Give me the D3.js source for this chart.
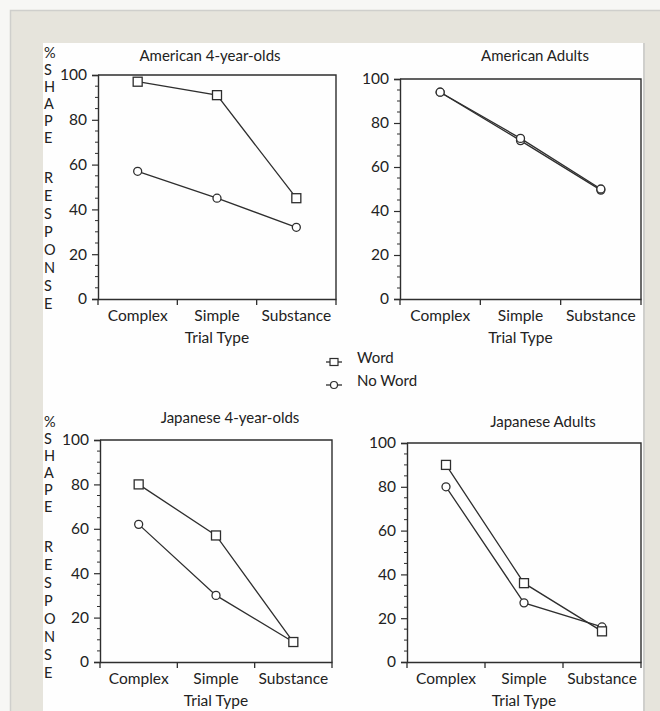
<!DOCTYPE html>
<html><head><meta charset="utf-8">
<script src="https://cdn.jsdelivr.net/npm/d3@7"></script>
<style>
html,body{margin:0;padding:0;background:#f7f7f5;}
svg{display:block;}
text{font-family:Lato,"Open Sans",sans-serif;fill:#222;}
</style></head>
<body>
<svg id="chart" width="660" height="711"></svg>
<script>
const categories = ["Complex", "Simple", "Substance"];
const seriesNames = ["Word", "No Word"];
const panelTitles = ["American 4-year-olds", "American Adults", "Japanese 4-year-olds", "Japanese Adults"];
const wordValues = [
  [97, 91, 45],
  [94, 73, 50],
  [80, 57, 9],
  [90, 36, 14]
];
const noWordValues = [
  [57, 45, 32],
  [94, 72, 49.5],
  [62, 30, 9],
  [80, 27, 16]
];
const yTicks = [0, 20, 40, 60, 80, 100];
const yMinorTicks = d3.range(0, 101, 5);
const yAxisTitle = ["%", "S", "H", "A", "P", "E", "", "R", "E", "S", "P", "O", "N", "S", "E"];
const xAxisTitle = "Trial Type";

const svg = d3.select("#chart");
const ink = "#2e2e2e";
const axisFont = "15.5px";

// background frames
svg.append("rect").attr("x", 10.5).attr("y", 10.5).attr("width", 660).attr("height", 711)
  .attr("fill", "#e6e4dc").attr("stroke", "#cfcfcc").attr("stroke-width", 1.5);
svg.append("rect").attr("x", 43).attr("y", 43).attr("width", 600).attr("height", 680)
  .attr("fill", "#fefefe");
svg.append("line").attr("x1", 644).attr("x2", 644).attr("y1", 43).attr("y2", 711)
  .attr("stroke", "#cfcfcc").attr("stroke-width", 2);

const layouts = [
  {x0: 98, x1: 336, y0: 75, y1: 299, tx: 210, ty: 61, vlabel: true, vy: 52},
  {x0: 400, x1: 641, y0: 79, y1: 299, tx: 535, ty: 61, vlabel: false},
  {x0: 100, x1: 332, y0: 440, y1: 662, tx: 230, ty: 423, vlabel: true, vy: 421},
  {x0: 407, x1: 641, y0: 443, y1: 662, tx: 543, ty: 427, vlabel: false}
];

function square(g, x, y) {
  g.append("rect").attr("x", x - 4.5).attr("y", y - 4.5).attr("width", 9).attr("height", 9)
    .attr("fill", "#fff").attr("stroke", ink).attr("stroke-width", 1.3);
}
function circle(g, x, y) {
  g.append("circle").attr("cx", x).attr("cy", y).attr("r", 4)
    .attr("fill", "#fff").attr("stroke", ink).attr("stroke-width", 1.3);
}

layouts.forEach((L, i) => {
  const g = svg.append("g");
  const x = d3.scaleBand().domain(categories).range([L.x0, L.x1]).padding(0);
  const y = d3.scaleLinear().domain([0, 100]).range([L.y1, L.y0]);

  // frame (top & right)
  g.append("path").attr("d", `M${L.x0},${L.y0}H${L.x1}V${L.y1}`)
    .attr("fill", "none").attr("stroke", ink).attr("stroke-width", 1.4);

  // y axis
  const yAx = g.append("g").attr("transform", `translate(${L.x0},0)`)
    .call(d3.axisLeft(y).tickValues(yTicks).tickSize(6).tickPadding(5).tickFormat(d3.format("d")));
  yAx.select(".domain").attr("stroke", ink).attr("stroke-width", 1.4);
  yAx.selectAll(".tick line").attr("stroke", ink).attr("stroke-width", 1.2);
  yAx.selectAll("text").style("font-size", axisFont).attr("fill", "#222");
  g.append("g").attr("transform", `translate(${L.x0},0)`)
    .selectAll("line").data(yMinorTicks.filter(v => !yTicks.includes(v))).join("line")
    .attr("x1", -3).attr("x2", 0).attr("y1", d => y(d)).attr("y2", d => y(d))
    .attr("stroke", ink).attr("stroke-width", 1);

  // x axis
  const xAx = g.append("g").attr("transform", `translate(0,${L.y1})`)
    .call(d3.axisBottom(x).tickSize(0).tickPadding(11));
  xAx.select(".domain").attr("stroke", ink).attr("stroke-width", 1.4);
  xAx.selectAll("text").style("font-size", axisFont).attr("fill", "#222");
  const bounds = [L.x0].concat(categories.map(c => x(c) + x.bandwidth()));
  g.selectAll("line.xb").data(bounds).join("line").attr("class", "xb")
    .attr("x1", d => d).attr("x2", d => d).attr("y1", L.y1).attr("y2", L.y1 + 6)
    .attr("stroke", ink).attr("stroke-width", 1.3);

  g.append("text").attr("x", (L.x0 + L.x1) / 2).attr("y", L.y1 + 44)
    .attr("text-anchor", "middle").style("font-size", axisFont).text(xAxisTitle);

  g.append("text").attr("x", L.tx).attr("y", L.ty).attr("text-anchor", "middle")
    .style("font-size", "15px").text(panelTitles[i]);

  if (L.vlabel) {
    yAxisTitle.forEach((ch, k) => {
      const yy = L.vy + (k < 6 ? k * 17 : 6 * 17 + 23 + (k - 7) * 18);
      if (ch) g.append("text").attr("x", 44).attr("y", yy + 5.5)
        .style("font-size", "14.5px").text(ch);
    });
  }

  const line = d3.line().x((d, j) => x(categories[j]) + x.bandwidth() / 2).y(d => y(d));
  [wordValues[i], noWordValues[i]].forEach((vals, s) => {
    g.append("path").attr("d", line(vals)).attr("fill", "none")
      .attr("stroke", ink).attr("stroke-width", 1.3);
  });
  noWordValues[i].forEach((v, j) => circle(g, x(categories[j]) + x.bandwidth() / 2, y(v)));
  wordValues[i].forEach((v, j) => {
    if (i === 1) circle(g, x(categories[j]) + x.bandwidth() / 2, y(v));
    else square(g, x(categories[j]) + x.bandwidth() / 2, y(v));
  });
});

// legend
const legend = svg.append("g");
seriesNames.forEach((name, k) => {
  const ly = 362 + k * 23;
  legend.append("line").attr("x1", 326).attr("x2", 342).attr("y1", ly).attr("y2", ly)
    .attr("stroke", ink).attr("stroke-width", 1.3);
  if (k === 0) legend.append("rect").attr("x", 330).attr("y", ly - 3.5).attr("width", 8).attr("height", 7)
    .attr("fill", "#fff").attr("stroke", ink).attr("stroke-width", 1.2);
  else legend.append("circle").attr("cx", 334).attr("cy", ly).attr("r", 3.5)
    .attr("fill", "#fff").attr("stroke", ink).attr("stroke-width", 1.2);
  legend.append("text").attr("x", 357).attr("y", ly + 1).style("font-size", "15px").text(name);
});
</script>
</body></html>
